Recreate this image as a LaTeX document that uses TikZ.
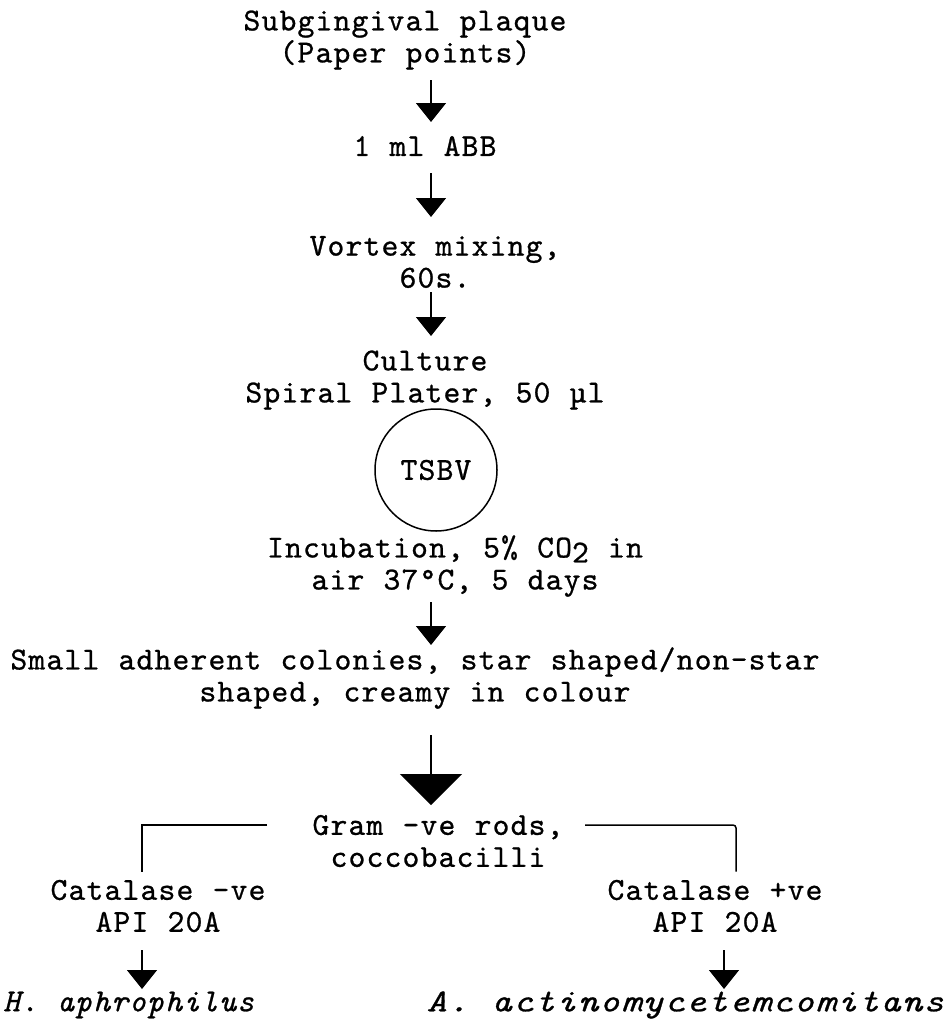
\documentclass[tikz,border=0pt]{standalone}
\usepackage{fontspec}
\newfontfamily\typeface{lmmono10-regular.otf}[ItalicFont=lmmono10-italic.otf,LetterSpace=3.75,WordSpace=1.07,FakeBold=0.8]
\usetikzlibrary{arrows.meta,positioning}

\begin{document}
\begin{tikzpicture}[x=1pt,y=-1pt]
    \tikzset{stage/.style={align=center,inner sep=0pt,font=\typeface\fontsize{32}{32}\selectfont},
      species/.style={stage,font=\typeface\itshape\fontsize{32}{32}\selectfont},
      flow/.style={line width=1.5pt,-{Triangle[length=19pt,width=30pt]}},
      bigflow/.style={line width=1.5pt,-{Triangle[length=31pt,width=62pt]}},
      branch/.style={line width=1.5pt}}
    \useasboundingbox (0,0) rectangle (946,1025);
    \node[stage] (plaque) at (405,40) {Subgingival plaque\\(Paper points)};
    \node[stage] (abb) at (425,146) {1 ml ABB};
    \node[stage] (vortex) at (435,262) {Vortex mixing,\\60s.};
    \node[stage] (culture) at (425,380) {Culture\\Spiral Plater, 50 µl};
    \node[stage,draw,circle,line width=1.5pt,minimum size=122pt] (plate) at (436,470) {TSBV};
    \node[stage] (incub) at (455,566) {Incubation, 5\% CO\raisebox{-5pt}{2} in\\air 37°C, 5 days};
    \node[stage] (colonies) at (415,678) {Small adherent colonies, star shaped/non-star\\shaped, creamy in colour};
    \node[stage] (gram) at (438,841) {Gram -ve rods,\\coccobacilli};
    \node[stage] (catneg) at (158,906) {Catalase -ve\\API 20A};
    \node[stage] (catpos) at (715,906) {Catalase +ve\\API 20A};
    \node[species,anchor=west] (haph) at (3,1005) {H. aphrophilus};
    \node[species,anchor=east] (aact) at (944,1005) {\scalebox{1.2}[1]{A. actinomycetemcomitans}};
    \coordinate (axis) at (431,0);
    \coordinate (lx) at (142,0);
    \coordinate (rx) at (736,0);
    \coordinate (rarr) at (724,0);
    % main line
    \draw[flow,shorten <=40pt,shorten >=24pt] (plaque -| axis) -- (abb -| axis);
    \draw[flow,shorten <=27pt,shorten >=45pt] (abb -| axis) -- (vortex -| axis);
    \draw[flow,shorten <=30pt,shorten >=44pt] (vortex -| axis) -- (culture -| axis);
    \draw[flow,shorten <=36pt,shorten >=33pt] (incub -| axis) -- (colonies -| axis);
    \draw[bigflow,shorten <=57pt,shorten >=36pt] (colonies -| axis) -- (gram -| axis);
    % the two branches
    \coordinate (gl) at (267,825);
    \coordinate (gr) at (585,825);
    \draw[branch,shorten >=8pt] (gl) -| (lx |- catneg.north);
    \draw[branch,rounded corners=3pt,shorten >=8pt] (gr) -| (rx |- catpos.north);
    \draw[flow,shorten <=44pt,shorten >=16pt] (lx |- catneg) -- (lx |- haph);
    \draw[flow,shorten <=44pt,shorten >=16pt] (rarr |- catpos) -- (rarr |- aact);
\end{tikzpicture}
\end{document}
